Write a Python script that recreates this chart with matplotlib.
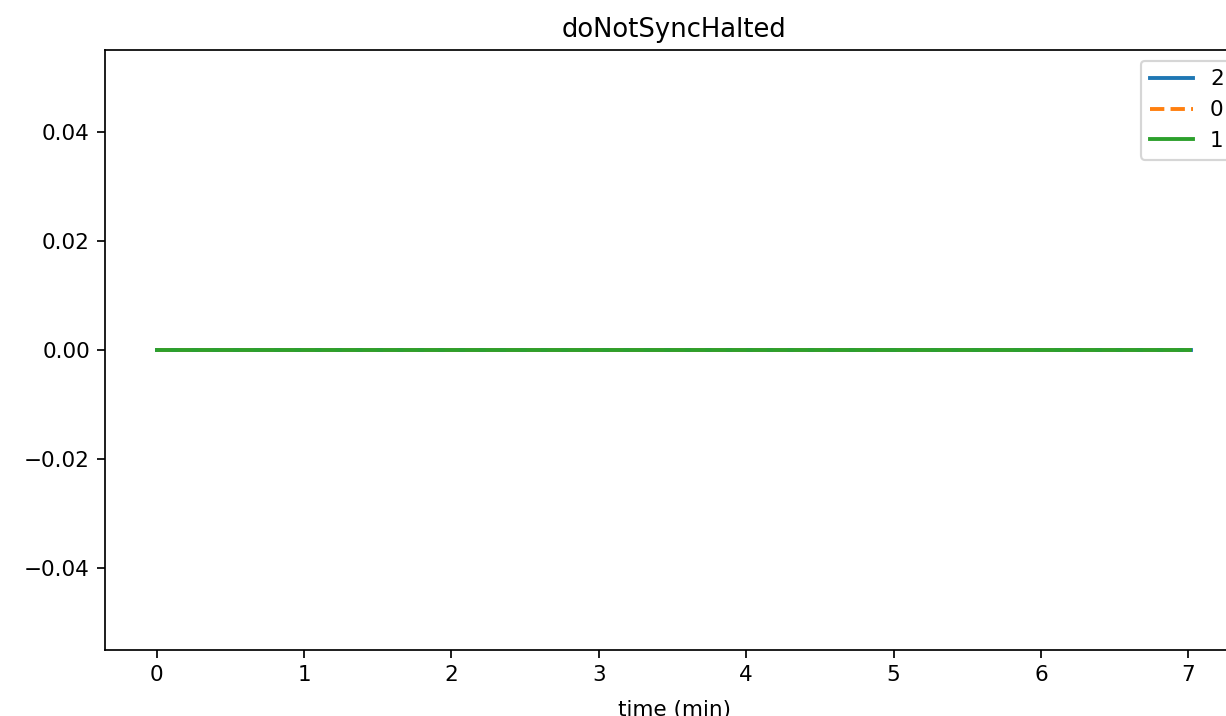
import matplotlib
matplotlib.use("Agg")
import matplotlib.pyplot as plt

# time in minutes and value per node
time_2 = [0, 1, 2, 3, 4, 5, 6, 7.02]
vals_2 = [0, 0, 0, 0, 0, 0, 0, 0]
time_0 = [0, 1, 2, 3, 4, 5, 6, 7.01]
vals_0 = [0, 0, 0, 0, 0, 0, 0, 0]
time_1 = [0, 1, 2, 3, 4, 5, 6, 7.01]
vals_1 = [0, 0, 0, 0, 0, 0, 0, 0]

dpi = 155
fig = plt.figure(figsize=(1226 / dpi, 716 / dpi), dpi=dpi)
ax = fig.add_axes([105 / 1226, 66 / 716, 1138 / 1226, 600 / 716])

ax.plot(time_2, vals_2, lw=1.8, label="2")
ax.plot(time_0, vals_0, "--", lw=1.8, label="0")
ax.plot(time_1, vals_1, lw=1.8, label="1")
ax.set_title("doNotSyncHalted")
ax.set_xlabel("time (min)", labelpad=7)
ax.legend(loc="upper right")

fig.savefig("out.png", dpi=dpi)
